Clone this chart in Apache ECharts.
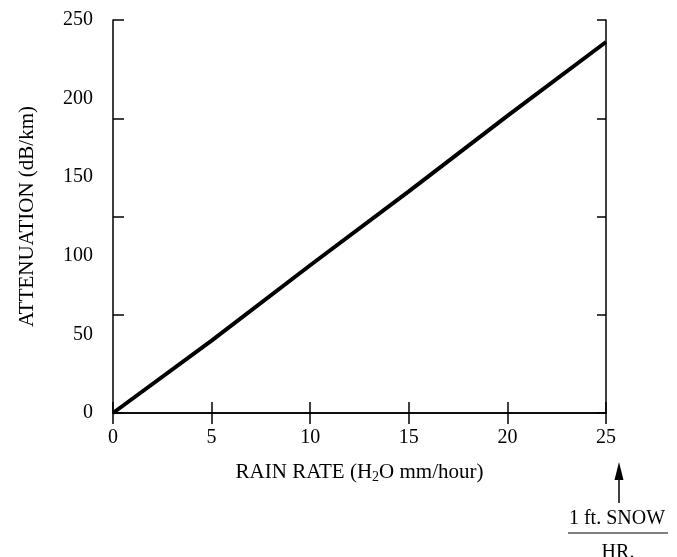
<!DOCTYPE html>
<html>
<head>
<meta charset="utf-8">
<script src="https://cdn.jsdelivr.net/npm/echarts@6/dist/echarts.min.js"></script>
<style>
  html, body { margin: 0; padding: 0; background: #fff; }
  #chart { width: 677px; height: 557px; }
</style>
</head>
<body>
<div id="chart"></div>
<script>
// rain rate (mm/hour) vs attenuation (dB/km)
var rainRate = [0, 5, 10, 15, 20, 25];
var attenuation = [0, 46, 94, 141, 189, 236];

var xTicks = { min: 0, max: 25, interval: 5 };
var yLabels = { min: 0, max: 250, interval: 50 };
// the frame tick marks split the y side in 4, not at the label spots
var yTickMarks = { min: 0, max: 250, interval: 62.5 };

var serif = "Liberation Serif";

var linePoints = [];
for (var i = 0; i < rainRate.length; i++) {
  linePoints.push([rainRate[i], attenuation[i]]);
}

var myChart = echarts.init(document.getElementById("chart"));

var option = {
  backgroundColor: "#fff",
  animation: false,
  textStyle: { fontFamily: serif, color: "#000" },
  grid: { left: 113, top: 20, right: 71, bottom: 144 },
  xAxis: [
    {
      type: "value",
      position: "bottom",
      min: xTicks.min,
      max: xTicks.max,
      interval: xTicks.interval,
      axisLine: { lineStyle: { color: "#000", width: 1.5 } },
      axisTick: { inside: true, length: 11, lineStyle: { color: "#000", width: 1.5 } },
      axisLabel: { margin: 15, fontSize: 20, color: "#000", fontFamily: serif },
      splitLine: { show: false },
      name: "RAIN RATE (H{sub|2}O mm/hour)",
      nameLocation: "middle",
      nameGap: 48,
      nameTextStyle: {
        fontSize: 21,
        color: "#000",
        fontFamily: serif,
        rich: { sub: { fontSize: 14, verticalAlign: "bottom", padding: [9, 0, 0, 0], fontFamily: serif } },
      },
    },
    {
      type: "value",
      position: "top",
      min: xTicks.min,
      max: xTicks.max,
      interval: xTicks.interval,
      axisLine: { lineStyle: { color: "#000", width: 1.5 } },
      axisTick: { inside: true, length: 11, lineStyle: { color: "#000", width: 1.5 } },
      axisLabel: { show: false },
      splitLine: { show: false },
    },
  ],
  yAxis: [
    {
      type: "value",
      position: "left",
      min: yLabels.min,
      max: yLabels.max,
      interval: yLabels.interval,
      axisLine: { lineStyle: { color: "#000", width: 1.5 } },
      axisTick: { show: false },
      axisLabel: { margin: 20, fontSize: 20, color: "#000", fontFamily: serif },
      splitLine: { show: false },
      name: "ATTENUATION (dB/km)",
      nameLocation: "middle",
      nameRotate: 90,
      nameGap: 75,
      nameTextStyle: { fontSize: 21, color: "#000", fontFamily: serif },
    },
    {
      type: "value",
      position: "left",
      min: yTickMarks.min,
      max: yTickMarks.max,
      interval: yTickMarks.interval,
      axisLine: { show: false },
      axisTick: { inside: true, length: 11, lineStyle: { color: "#000", width: 1.5 } },
      axisLabel: { show: false },
      splitLine: { show: false },
    },
    {
      type: "value",
      position: "right",
      min: yTickMarks.min,
      max: yTickMarks.max,
      interval: yTickMarks.interval,
      axisLine: { lineStyle: { color: "#000", width: 1.5 } },
      axisTick: { inside: true, length: 9, lineStyle: { color: "#000", width: 1.5 } },
      axisLabel: { show: false },
      splitLine: { show: false },
    },
  ],
  series: [
    {
      type: "line",
      xAxisIndex: 0,
      yAxisIndex: 0,
      data: linePoints,
      symbol: "none",
      lineStyle: { color: "#000", width: 4 },
    },
  ],
  graphic: [
    // arrow pointing up at 25 mm/hour
    {
      type: "line",
      shape: { x1: 619, y1: 503, x2: 619, y2: 475 },
      style: { stroke: "#000", lineWidth: 1.5 },
    },
    {
      type: "polygon",
      shape: { points: [[619, 462], [614.5, 480], [623.5, 480]] },
      style: { fill: "#000" },
    },
    {
      type: "text",
      x: 617,
      y: 519,
      style: { text: "1 ft. SNOW", font: "20px " + serif, fill: "#000", align: "center", verticalAlign: "middle" },
    },
    {
      type: "line",
      shape: { x1: 568, y1: 533, x2: 668, y2: 533 },
      style: { stroke: "#000", lineWidth: 1 },
    },
    {
      type: "text",
      x: 618,
      y: 553,
      style: { text: "HR.", font: "20px " + serif, fill: "#000", align: "center", verticalAlign: "middle" },
    },
  ],
};

if (option && typeof option === "object") {
  myChart.setOption(option, true);
}
</script>
</body>
</html>
